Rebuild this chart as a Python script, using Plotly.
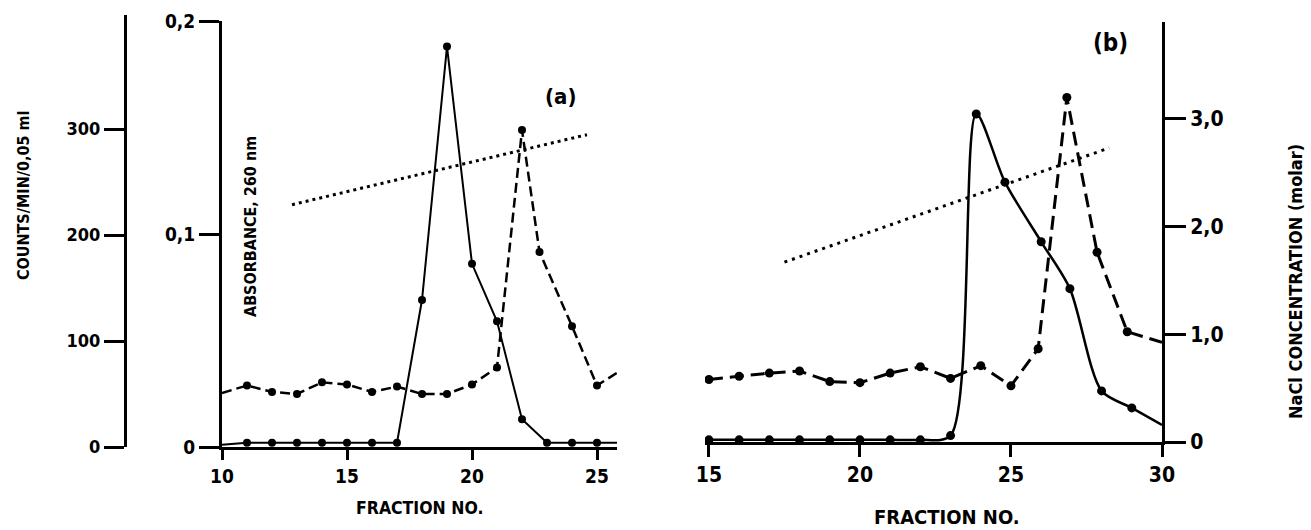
import plotly.graph_objects as go

W, H = 1311, 530

# ---------------- data ----------------
# Panel (a)
frac_a_abs = [10, 11, 12, 13, 14, 15, 16, 17, 18, 19, 20, 21, 22, 23, 24, 25, 25.8]
abs_a = [0.001, 0.002, 0.002, 0.002, 0.002, 0.002, 0.002, 0.002, 0.069, 0.188, 0.086, 0.059, 0.013, 0.002, 0.002, 0.002, 0.002]

frac_a_cpm = [10, 11, 12, 13, 14, 15, 16, 17, 18, 19, 20, 21, 22, 22.7, 24, 25, 26]
cpm_a = [51, 58, 52, 50, 61, 59, 52, 57, 50, 50, 59, 75, 299, 184, 114, 58, 73]

frac_a_nacl = [12.8, 24.6]
nacl_a = [2.25, 2.9]

# Panel (b)
frac_b_abs = [15, 16, 17, 18, 19, 20, 21, 22, 23, 23.85, 24.8, 26, 26.95, 28, 29, 30]
abs_b = [0.001, 0.001, 0.001, 0.001, 0.001, 0.001, 0.001, 0.001, 0.003, 0.154, 0.122, 0.094, 0.072, 0.024, 0.016, 0.008]

frac_b_cpm = [15, 16, 17, 18, 19, 20, 21, 22, 23, 24, 25, 25.9, 26.85, 27.85, 28.85, 30]
cpm_b = [59, 62, 65, 67, 57, 56, 65, 71, 60, 72, 53, 88, 325, 179, 104, 94]

frac_b_nacl = [17.5, 28.25]
nacl_b = [1.67, 2.73]

ticks_a_x = [10, 15, 20, 25]
ticks_b_x = [15, 20, 25, 30]
ticks_abs = [0, 0.1, 0.2]
ticks_abs_text = ["0", "0,1", "0,2"]
ticks_cpm = [0, 100, 200, 300]
ticks_nacl = [0, 1, 2, 3]
ticks_nacl_text = ["0", "1,0", "2,0", "3,0"]

# ---------------- helpers ----------------
def fx(p):
    return p / W

def fy(p):
    return 1 - p / H

FONT = "DejaVu Sans Condensed, Liberation Sans Narrow, Arial Narrow, sans-serif"
BLACK = "#000000"

fig = go.Figure()

def msizes(n, size, skip):
    return [0 if i in skip else size for i in range(n)]

def mk(n, size, skip):
    return dict(color=BLACK, opacity=1, line=dict(width=0), size=msizes(n, size, skip))

# panel (a) traces
fig.add_trace(go.Scatter(x=frac_a_abs, y=abs_a, xaxis="x", yaxis="y", mode="lines+markers",
                         line=dict(color=BLACK, width=2),
                         marker=mk(len(abs_a), 8, {0, len(abs_a) - 1}), showlegend=False))
fig.add_trace(go.Scatter(x=frac_a_cpm, y=cpm_a, xaxis="x", yaxis="y2", mode="lines+markers",
                         line=dict(color=BLACK, width=2.5, dash="10px,5px"),
                         marker=mk(len(cpm_a), 8, {0, len(cpm_a) - 1}), showlegend=False))
fig.add_trace(go.Scatter(x=frac_a_nacl, y=nacl_a, xaxis="x", yaxis="y3", mode="lines",
                         line=dict(color=BLACK, width=3, dash="3px,4px"), showlegend=False))

# panel (b) traces
fig.add_trace(go.Scatter(x=frac_b_abs, y=abs_b, xaxis="x2", yaxis="y5", mode="lines+markers",
                         line=dict(color=BLACK, width=2.5, shape="spline", smoothing=0.8),
                         marker=mk(len(abs_b), 9, {len(abs_b) - 1}), showlegend=False))
fig.add_trace(go.Scatter(x=frac_b_cpm, y=cpm_b, xaxis="x2", yaxis="y6", mode="lines+markers",
                         line=dict(color=BLACK, width=3, dash="14px,7px"),
                         marker=mk(len(cpm_b), 9, {len(cpm_b) - 1}), showlegend=False))
fig.add_trace(go.Scatter(x=frac_b_nacl, y=nacl_b, xaxis="x2", yaxis="y4", mode="lines",
                         line=dict(color=BLACK, width=3, dash="3px,5px"), showlegend=False))

def tf(size):
    return dict(family=FONT, size=size, color=BLACK, weight="bold")

axis_common = dict(showgrid=False, zeroline=False, showline=True, linecolor=BLACK,
                   linewidth=3, ticks="outside", tickcolor=BLACK, tickwidth=3,
                   automargin=False)

hidden = dict(visible=False, automargin=False, showgrid=False, zeroline=False)

fig.update_layout(
    width=W, height=H,
    margin=dict(l=0, r=0, t=0, b=0, pad=0),
    paper_bgcolor="white", plot_bgcolor="rgba(0,0,0,0)",
    xaxis=dict(domain=[fx(222), fx(617)], range=[10, 25.8], anchor="y",
               tickvals=ticks_a_x, ticklen=10, tickfont=tf(19), **axis_common),
    yaxis=dict(domain=[fy(447), fy(21)], range=[0, 0.2], anchor="x",
               tickvals=ticks_abs, ticktext=ticks_abs_text, ticklen=20, tickfont=tf(19),
               **axis_common),
    yaxis2=dict(domain=[fy(447), fy(15)], range=[0, 432 / 1.06], anchor="free",
                position=fx(125), tickvals=ticks_cpm, ticklen=20, tickfont=tf(18),
                **axis_common),
    yaxis3=dict(domain=[fy(447), fy(15)], range=[0, 432 / 107.7], anchor="x", **hidden),
    xaxis2=dict(domain=[fx(705), fx(1162)], range=[14.87, 30], anchor="y4",
                tickvals=ticks_b_x, ticklen=12, tickfont=tf(21), **axis_common),
    yaxis4=dict(domain=[fy(442), fy(22)], range=[0, 420 / 107.7], anchor="x2", side="right",
                tickvals=ticks_nacl, ticktext=ticks_nacl_text, ticklen=21, tickfont=tf(21),
                **axis_common),
    yaxis5=dict(domain=[fy(442), fy(15)], range=[0, 427 / 2130], anchor="x2", **hidden),
    yaxis6=dict(domain=[fy(442), fy(15)], range=[0, 427 / 1.06], anchor="x2", **hidden),
)

def label(text, x, y, size, angle=0):
    fig.add_annotation(text=text, x=fx(x), y=fy(y), xref="paper", yref="paper",
                       showarrow=False, textangle=angle, xanchor="center", yanchor="middle",
                       font=tf(size))

label("COUNTS/MIN/0,05 ml", 24, 196, 16, -90)
label("ABSORBANCE, 260 nm", 250, 227, 16, -90)
label("NaCl CONCENTRATION (molar)", 1295, 282, 18, -90)
label("FRACTION NO.", 419, 508, 17.5)
label("FRACTION NO.", 947, 517, 20)
label("(a)", 560, 97, 22)
label("(b)", 1110, 43, 24)

# remove the default 8 px page margin so the figure fills the browser window exactly
fig.write_html("out.html",
               config={"displayModeBar": False},
               post_script="document.body.style.margin='0px';document.body.style.overflow='hidden';")
